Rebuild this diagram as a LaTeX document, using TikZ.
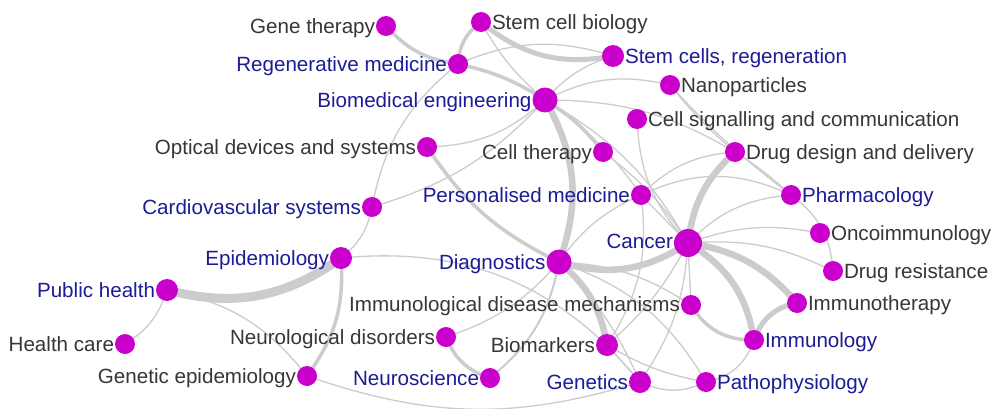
\documentclass[tikz,border=0pt]{standalone}
\usepackage{fontspec}
\setmainfont{Liberation Sans}
\usetikzlibrary{backgrounds}
\definecolor{nodecol}{RGB}{204,0,204}
\definecolor{labblue}{RGB}{28,28,150}
\definecolor{labgray}{RGB}{55,55,55}
\definecolor{edgecol}{RGB}{204,204,204}
\tikzset{
  dot/.style={circle,fill=nodecol,draw=none,inner sep=0pt,minimum size=#1},
  dot/.default=20pt,
  lbase/.style={font=\fontsize{20.6}{24}\selectfont,inner sep=0.6pt,text height=14.8pt,text depth=0pt},
  lb/.style={lbase,text=labblue},
  lg/.style={lbase,text=labgray},
  ew/.style={draw=edgecol,line width=#1,line cap=round},
  wA/.style={ew=1.3pt},
  wB/.style={ew=2pt},
  wC/.style={ew=3.5pt},
  wD/.style={ew=5pt},
  wE/.style={ew=6.5pt},
  wF/.style={ew=9pt},
}
\begin{document}
\begin{tikzpicture}[x=1pt,y=1pt,label distance=0pt]
\useasboundingbox (0,0) rectangle (992,408);
% nodes
\node[dot, label={[lg]left:Gene therapy}] (gt) at (386,382) {};
\node[dot, label={[lg]right:Stem cell biology}] (scb) at (481,386) {};
\node[dot=22pt, label={[lb]right:{Stem cells, regeneration}}] (scr) at (613,352) {};
\node[dot, label={[lb]left:Regenerative medicine}] (rm) at (458,344) {};
\node[dot, label={[lg]right:Nanoparticles}] (np) at (670,323) {};
\node[dot=25pt, label={[lb]left:Biomedical engineering}] (be) at (545,308) {};
\node[dot, label={[lg]right:Cell signalling and communication}] (cs) at (637,289) {};
\node[dot, label={[lg]left:Optical devices and systems}] (od) at (427,261) {};
\node[dot, label={[lg]left:Cell therapy}] (ct) at (603,256) {};
\node[dot, label={[lg]right:Drug design and delivery}] (dd) at (735,256) {};
\node[dot, label={[lb]left:Personalised medicine}] (pm) at (641,213) {};
\node[dot, label={[lb]right:Pharmacology}] (ph) at (791,213) {};
\node[dot, label={[lb]left:Cardiovascular systems}] (cv) at (372,201) {};
\node[dot=28pt, label={[lb,yshift=2pt]left:Cancer}] (ca) at (688,165) {};
\node[dot, label={[lg]right:Oncoimmunology}] (oi) at (820,175) {};
\node[dot=22pt, label={[lb]left:Epidemiology}] (ep) at (341,150) {};
\node[dot=25pt, label={[lb]left:Diagnostics}] (dg) at (559,146) {};
\node[dot, label={[lg]right:Drug resistance}] (dr) at (833,137) {};
\node[dot=22pt, label={[lb]left:Public health}] (pu) at (167,118) {};
\node[dot, label={[lg,yshift=1pt]left:Immunological disease mechanisms}] (idm) at (691,103) {};
\node[dot, label={[lg]right:Immunotherapy}] (it) at (797,105) {};
\node[dot, label={[lg]left:Neurological disorders}] (nd) at (446,71) {};
\node[dot, label={[lg]left:Health care}] (hc) at (125,64) {};
\node[dot, label={[lb]right:Immunology}] (im) at (754,68) {};
\node[dot=22pt, label={[lg]left:Biomarkers}] (bm) at (607,63) {};
\node[dot, label={[lg]left:Genetic epidemiology}] (ge) at (307,32) {};
\node[dot, label={[lb]left:Neuroscience}] (ns) at (490,30) {};
\node[dot=22pt, label={[lb]left:Genetics}] (gn) at (640,26) {};
\node[dot, label={[lb]right:Pathophysiology}] (pp) at (706,26) {};
% edges
\begin{scope}[on background layer]
\fill[white] (0,0) rectangle (992,408);
% thin
\draw[wA] (pu.center) to[bend left=20] (hc.center);
\draw[wA] (pu.center) to[bend left=20] (ge.center);
\draw[wA] (ge.center) to[bend right=18] (gn.center);
\draw[wA] (ep.center) to[bend right=20] (cv.center);
\draw[wA] (ep.center) to[bend left=28] (gn.center);
\draw[wA] (rm.center) to[bend right=20] (cv.center);
\draw[wA] (cv.center) to[bend right=15] (be.center);
\draw[wA] (od.center) to[bend right=20] (be.center);
\draw[wA] (scb.center) to[bend right=10] (be.center);
\draw[wA] (rm.center) to[bend left=20] (scr.center);
\draw[wA] (be.center) to[bend left=15] (scr.center);
\draw[wA] (be.center) to[bend left=20] (np.center);
\draw[wA] (be.center) to[bend left=15] (dd.center);
\draw[wA] (be.center) to[bend left=10] (pm.center);
\draw[wA] (be.center) to[bend left=15] (ca.center);
\draw[wA] (ct.center) to[bend left=10] (ca.center);
\draw[wA] (cs.center) to[bend right=20] (ca.center);
\draw[wA] (pm.center) to (ca.center);
\draw[wA] (pm.center) to[bend right=15] (dg.center);
\draw[wA] (pm.center) to[bend left=25] (ph.center);
\draw[wA] (pm.center) to[bend left=20] (dd.center);
\draw[wA] (pm.center) to[bend left=20] (bm.center);
\draw[wA] (np.center) to[bend right=5] (dd.center);
\draw[wA] (np.center) to[bend right=5] (ph.center);
\draw[wA] (dd.center) to[bend left=5] (ph.center);
\draw[wA] (ph.center) to[bend left=25] (dr.center);
\draw[wA] (ca.center) to[bend left=20] (ph.center);
\draw[wA] (ca.center) to[bend left=15] (oi.center);
\draw[wA] (ca.center) to[bend left=15] (dr.center);
\draw[wA] (ca.center) to (idm.center);
\draw[wA] (ca.center) to[bend left=10] (bm.center);
\draw[wA] (ca.center) to[bend left=15] (gn.center);
\draw[wA] (dg.center) to[bend left=10] (gn.center);
\draw[wA] (dg.center) to[bend left=20] (pp.center);
\draw[wA] (dg.center) to[bend left=15] (idm.center);
\draw[wA] (nd.center) to[bend right=15] (dg.center);
\draw[wA] (bm.center) to (gn.center);
\draw[wA] (bm.center) to[bend right=10] (pp.center);
\draw[wA] (gn.center) to[bend right=25] (pp.center);
\draw[wA] (pp.center) to[bend right=30] (im.center);
% medium
\draw[wB] (ns.center) to[bend right=20] (dg.center);
\draw[wC] (be.center) to[bend left=10] (ct.center);
\draw[wC] (od.center) to[bend right=15] (dg.center);
\draw[wC] (idm.center) to[bend right=30] (im.center);
\draw[wC] (nd.center) to[bend right=25] (ns.center);
\draw[wC] (ep.center) to[bend left=20] (ge.center);
\draw[wC] (rm.center) to[bend left=25] (scb.center);
\draw[wC] (rm.center) to[bend left=10] (be.center);
\draw[wC] (gt.center) to[bend right=20] (rm.center);
\draw[wD] (it.center) to[bend right=30] (im.center);
\draw[wD] (scb.center) to[bend right=25] (scr.center);
% thick
\draw[wE] (dg.center) to[bend left=20] (bm.center);
\draw[wE] (ca.center) to[bend left=20] (it.center);
\draw[wE] (ca.center) to[bend left=25] (im.center);
\draw[wE] (ca.center) to[bend left=20] (dd.center);
\draw[wE] (be.center) to[bend left=25] (dg.center);
\draw[wE] (dg.center) to[bend right=25] (ca.center);
\draw[wF] (pu.center) to[bend right=25] (ep.center);
\end{scope}
\end{tikzpicture}
\end{document}
